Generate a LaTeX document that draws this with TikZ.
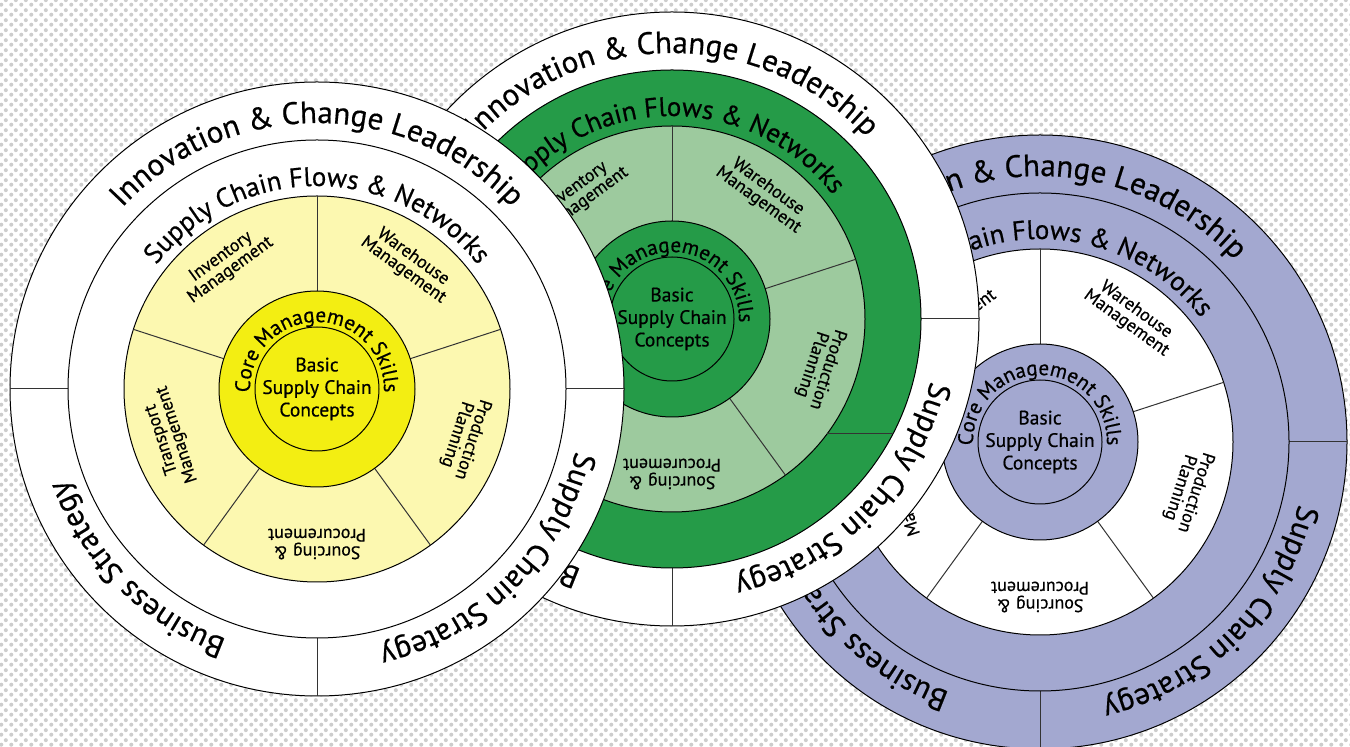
\documentclass[tikz,border=0pt]{standalone}
\usepackage{fontspec}
\setmainfont{PT Sans}[FakeBold=0.5]
\usetikzlibrary{decorations.text,patterns}
\definecolor{yelL}{RGB}{252,248,176}
\definecolor{yelB}{RGB}{243,238,18}
\definecolor{grnD}{RGB}{37,155,72}
\definecolor{grnL}{RGB}{157,202,158}
\definecolor{lav}{RGB}{163,168,208}
\definecolor{dotgray}{RGB}{205,205,205}
\pgfdeclarepatternformonly{halftone}{\pgfpoint{0pt}{0pt}}{\pgfpoint{10pt}{10pt}}{\pgfpoint{10pt}{10pt}}{%
  \pgfpathcircle{\pgfpoint{2.5pt}{2.5pt}}{2.2pt}\pgfpathcircle{\pgfpoint{7.5pt}{7.5pt}}{2.2pt}\pgfusepath{fill}}
\newcommand\fOuter{\fontsize{31}{31}\selectfont}
\newcommand\fMid{\fontsize{27}{27}\selectfont}
\newcommand\fCore{\fontsize{21}{21}\selectfont}
\tikzset{
  ring/.style={draw=black, line width=1pt},
  divider/.style={draw=black!80, line width=1pt},
  seglabel/.style={font=\fontsize{18}{16.5}\selectfont, align=center, inner sep=0pt},
  centerlabel/.style={font=\fontsize{19.5}{22.5}\selectfont, align=center, inner sep=0pt},
}
\newcommand\mywheel[8]{%
\begin{scope}[shift={(#2,#3)}]
\filldraw[ring, fill=#4] (0,0) circle (307);
\draw[divider] (0:249) -- (0:307) (180:249) -- (180:307) (270:249) -- (270:307);
\filldraw[ring, fill=#5] (0,0) circle (249);
\filldraw[ring, fill=#6] (0,0) circle (193);
\foreach \a in {18,90,162,234,306} \draw[divider] (\a:98) -- (\a:193);
\filldraw[ring, fill=#7] (0,0) circle (98);
\filldraw[ring, fill=#8] (0,0) circle (62);
\path[decorate, decoration={text along path, text align=center, text={|\fOuter|Innovation {\&} Change Leadership}}] (190:266) arc[start angle=190, end angle=-10, radius=266];
\path[decorate, decoration={text along path, text align=center, text={|\fOuter|Business Strategy}}] (280:266) arc[start angle=280, end angle=170, radius=266];
\path[decorate, decoration={text along path, text align=center, text={|\fOuter|Supply Chain Strategy}}] (370:266) arc[start angle=370, end angle=260, radius=266];
\path[decorate, decoration={text along path, text align=center, text={|\fMid|Supply Chain Flows {\&} Networks}}] (200:203) arc[start angle=200, end angle=-20, radius=203];
\path[decorate, decoration={text along path, text align=center, text={|\fCore|Core Management Skills}}] (215:67) arc[start angle=215, end angle=-35, radius=67];
\node[seglabel, rotate=36] (#1inv) at (126:155) {Inventory\\Management};
\node[seglabel, rotate=-36] (#1war) at (54:155) {Warehouse\\Management};
\node[seglabel, rotate=-108] (#1pro) at (-18:155) {Production\\Planning};
\node[seglabel, rotate=180] (#1sou) at (270:155) {Sourcing \&\\Procurement};
\node[seglabel, rotate=108] (#1tra) at (198:155) {Transport\\Management};
\node[centerlabel] (#1basic) at (0,0) {Basic\\Supply Chain\\Concepts};
\end{scope}}
\begin{document}
\begin{tikzpicture}[x=1pt,y=1pt]
\useasboundingbox (0,0) rectangle (1350,747);
\fill[white] (0,0) rectangle (1350,747);
\fill[pattern=halftone, pattern color=dotgray] (0,0) rectangle (1350,747);
\mywheel{P}{1040}{305}{lav}{lav}{white}{lav}{lav}
\mywheel{G}{672}{428}{white}{grnD}{grnL}{grnD}{grnD}
\draw[divider] (827,313) -- (893,313);
\mywheel{Y}{317}{358}{white}{white}{yelL}{yelB}{yelB}
\end{tikzpicture}
\end{document}
